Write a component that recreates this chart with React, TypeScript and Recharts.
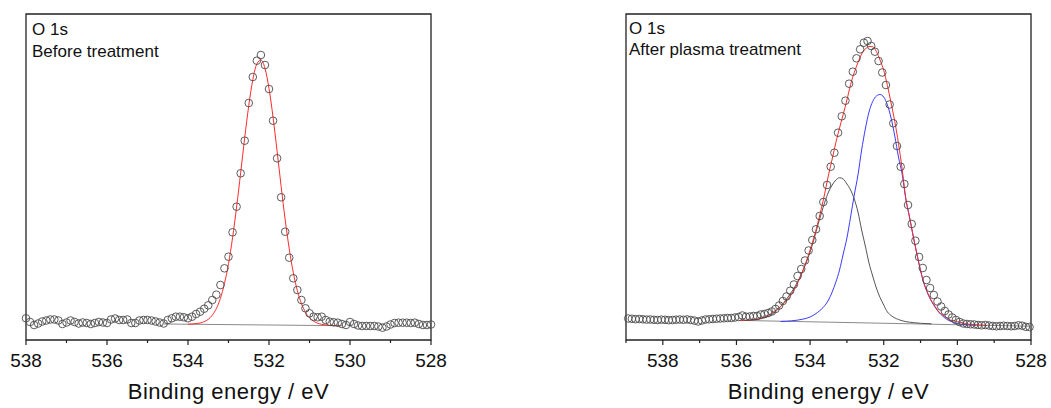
import { ComposedChart, Line, ReferenceArea, Scatter, XAxis, YAxis } from "recharts";

// O 1s spectra, intensity in arbitrary units
const beforeScan: [number, number][] = [
  [538.0, 21.7], [537.9, 18], [537.8, 15], [537.7, 16.5], [537.6, 18.5], [537.5, 19.5],
  [537.4, 20.5], [537.3, 20.5], [537.2, 19.5], [537.1, 16], [537.0, 17.5], [536.9, 19.5],
  [536.8, 18], [536.7, 16.5], [536.6, 17.5], [536.5, 17], [536.4, 16], [536.3, 17],
  [536.2, 18], [536.1, 17.5], [536.0, 17], [535.9, 20.5], [535.8, 21.5], [535.7, 20],
  [535.6, 20], [535.5, 20.5], [535.4, 17], [535.3, 17], [535.2, 19.5], [535.1, 20],
  [535.0, 20], [534.9, 19.5], [534.8, 18.5], [534.7, 17.5], [534.6, 16.5], [534.5, 20],
  [534.4, 21.7], [534.3, 23.3], [534.2, 23.3], [534.1, 22.7], [534.0, 21.7], [533.9, 23.3],
  [533.8, 26], [533.7, 28.3], [533.6, 31.3], [533.5, 34.7], [533.4, 40], [533.3, 45.3],
  [533.2, 55], [533.1, 71.7], [533.0, 83.3], [532.9, 107.7], [532.8, 133.3], [532.7, 166.7],
  [532.6, 199.3], [532.5, 237], [532.4, 263], [532.3, 279.3], [532.2, 285], [532.1, 275],
  [532.0, 251], [531.9, 219.3], [531.8, 181.7], [531.7, 142.7], [531.6, 108.3], [531.5, 82.3],
  [531.4, 61.7], [531.3, 50], [531.2, 40], [531.1, 31.7], [531.0, 26.7], [530.9, 23.3],
  [530.8, 22.7], [530.7, 23.3], [530.6, 20], [530.5, 18.3], [530.4, 17.7], [530.3, 17.3],
  [530.2, 16], [530.1, 15], [530.0, 18], [529.9, 16], [529.8, 14.5], [529.7, 14],
  [529.6, 14], [529.5, 14], [529.4, 14], [529.3, 13.5], [529.2, 12.3], [529.1, 13.5],
  [529.0, 15.5], [528.9, 17], [528.8, 17.3], [528.7, 17.3], [528.6, 17.3], [528.5, 17],
  [528.4, 17.3], [528.3, 16], [528.2, 15], [528.1, 15], [528.0, 15.5],
];

const beforeFit: [number, number][] = [
  [534.0, 15.8], [533.9, 16], [533.8, 16.4], [533.7, 17], [533.6, 18.3], [533.5, 20.7],
  [533.4, 24.8], [533.3, 31.4], [533.2, 41.6], [533.1, 56.4], [533.0, 76.3], [532.9, 102.2],
  [532.8, 133], [532.7, 167.2], [532.6, 202.2], [532.5, 234.4], [532.4, 260.3], [532.3, 276.1],
  [532.2, 280.1], [532.1, 271.8], [532.0, 251.5], [531.9, 222.8], [531.8, 188.8], [531.7, 153.5],
  [531.6, 120.2], [531.5, 91.1], [531.4, 67.4], [531.3, 49.4], [531.2, 36.6], [531.1, 27.8],
  [531.0, 22.2], [530.9, 18.8], [530.8, 16.8], [530.7, 15.7], [530.6, 15], [530.5, 14.5],
  [530.4, 14.4], [530.3, 14.3],
];

const beforeBase: [number, number][] = [[534.6, 16], [530.2, 14.3]];

const afterScan: [number, number][] = [
  [538.94, 21.5], [538.84, 21.2], [538.74, 20.8], [538.64, 21], [538.54, 20.7], [538.44, 20.4],
  [538.34, 20.5], [538.24, 20.2], [538.14, 20], [538.04, 20.4], [537.94, 20.2], [537.84, 19.8],
  [537.74, 20], [537.64, 20.3], [537.54, 20.5], [537.44, 20.2], [537.34, 20.6], [537.24, 20],
  [537.14, 19.4], [537.04, 18.5], [536.94, 19.5], [536.84, 20.5], [536.74, 20.7], [536.64, 21],
  [536.54, 21.3], [536.44, 21.5], [536.34, 21.7], [536.24, 22], [536.14, 22], [536.04, 22.5],
  [535.94, 23], [535.84, 24.5], [535.74, 23.3], [535.64, 23.5], [535.54, 24], [535.44, 24],
  [535.34, 25.5], [535.24, 26], [535.14, 27], [535.04, 28.5], [534.94, 31], [534.84, 34.5],
  [534.74, 39], [534.64, 43.5], [534.54, 49.3], [534.44, 55.5], [534.34, 64], [534.24, 71],
  [534.14, 79.5], [534.04, 89.5], [533.94, 100], [533.84, 110.7], [533.74, 124], [533.64, 138],
  [533.54, 155], [533.44, 173.3], [533.34, 187.3], [533.24, 207.3], [533.14, 223.7], [533.04, 239.3],
  [532.94, 256.3], [532.84, 268.3], [532.74, 281.7], [532.64, 290.7], [532.54, 297.3], [532.44, 299],
  [532.34, 294], [532.24, 288.3], [532.14, 279], [532.04, 267.5], [531.94, 255], [531.84, 235.5],
  [531.74, 216.7], [531.64, 194], [531.54, 173.3], [531.44, 156], [531.34, 135], [531.24, 116],
  [531.14, 99.3], [531.04, 83], [530.94, 72], [530.84, 60], [530.74, 52], [530.64, 45],
  [530.54, 38.5], [530.44, 33.5], [530.34, 29], [530.24, 25.5], [530.14, 22.5], [530.04, 20],
  [529.94, 18], [529.84, 16.5], [529.74, 16], [529.64, 15.7], [529.54, 15.5], [529.44, 15],
  [529.34, 14.7], [529.24, 15], [529.14, 14.5], [529.04, 14], [528.94, 13.7], [528.84, 14],
  [528.74, 14.3], [528.64, 14], [528.54, 13.7], [528.44, 14], [528.34, 14.7], [528.24, 14.3],
  [528.14, 13.2], [528.04, 13],
];

const afterFit: [number, number][] = [
  [535.9, 19.5], [535.8, 19.6], [535.7, 19.8], [535.6, 20.1], [535.5, 20.6], [535.4, 21.3],
  [535.3, 22.3], [535.2, 23.7], [535.1, 25.5], [535.0, 27.8], [534.9, 30.5], [534.8, 33.5],
  [534.7, 37], [534.6, 41], [534.5, 46], [534.4, 52.5], [534.3, 60], [534.2, 69],
  [534.1, 79], [534.0, 90], [533.9, 102], [533.8, 115.5], [533.7, 130.5], [533.6, 147],
  [533.5, 165], [533.4, 181], [533.3, 197.5], [533.2, 212], [533.1, 225.7], [533.0, 240],
  [532.9, 255.4], [532.8, 267.5], [532.7, 277.5], [532.6, 286], [532.5, 291], [532.4, 293.5],
  [532.3, 293.3], [532.2, 288.5], [532.1, 280], [532.0, 269.5], [531.9, 254.5], [531.8, 237],
  [531.7, 218.5], [531.6, 196.7], [531.5, 171], [531.4, 141.5], [531.3, 123], [531.2, 104],
  [531.1, 86.5], [531.0, 69.5], [530.9, 56], [530.8, 46.5], [530.7, 39], [530.6, 33.3],
  [530.5, 28], [530.4, 25], [530.3, 22.5], [530.2, 20], [530.0, 18.5], [529.8, 16.5],
  [529.6, 15.5], [529.4, 15], [529.2, 14.5],
];

// component at higher binding energy (grey)
const afterHigh: [number, number][] = [
  [535.8, 19.5], [535.6, 19.8], [535.4, 20.8], [535.2, 22.7], [535.0, 26.5], [534.8, 33.5],
  [534.6, 43], [534.4, 54], [534.2, 69], [534.0, 88], [533.9, 100], [533.8, 113.5],
  [533.7, 126], [533.6, 138], [533.5, 148], [533.4, 155], [533.3, 160], [533.2, 162.3],
  [533.1, 161], [533.0, 156], [532.9, 150], [532.8, 141], [532.7, 128], [532.6, 110],
  [532.5, 94], [532.4, 77], [532.3, 64], [532.2, 52], [532.1, 42.5], [532.0, 35],
  [531.9, 28], [531.8, 24.5], [531.6, 20.5], [531.4, 18.4], [531.2, 17.4], [531.0, 16.7],
  [530.7, 16.2],
];

// component at lower binding energy (blue)
const afterLow: [number, number][] = [
  [534.8, 18.5], [534.5, 19.2], [534.2, 20.8], [534.0, 23], [533.8, 27.5], [533.6, 34.5],
  [533.5, 40], [533.4, 48], [533.3, 58], [533.2, 70], [533.1, 86], [533.0, 102],
  [532.9, 123], [532.8, 145], [532.7, 165], [532.6, 190], [532.5, 211], [532.4, 228],
  [532.3, 238.5], [532.2, 244], [532.1, 245.5], [532.0, 243], [531.9, 235], [531.8, 222],
  [531.7, 204], [531.6, 183], [531.5, 166], [531.4, 141], [531.3, 123], [531.2, 104],
  [531.1, 86], [531.0, 69.5], [530.9, 56], [530.8, 46], [530.7, 38.5], [530.6, 32.5],
  [530.5, 27.5], [530.4, 24], [530.3, 21], [530.2, 19], [530.0, 16.5], [529.8, 15.5],
  [529.5, 14.8],
];

const afterBase: [number, number][] = [[535.9, 19.6], [528.0, 13.8]];

const beforeTicks = [538, 537, 536, 535, 534, 533, 532, 531, 530, 529, 528];
const afterTicks = [539, 538, 537, 536, 535, 534, 533, 532, 531, 530, 529, 528];

const font = "'Liberation Sans', Arial, sans-serif";
const frame = "#222";
const H = 408;
const Y_MAX = 326;

const rows = (r: [number, number][]) => r.map(([e, v]) => ({ e, v }));

function EnergyTick(props: any) {
  const { x, y, payload } = props;
  const major = payload.value % 2 === 0;
  return (
    <g>
      <line x1={x} x2={x} y1={y} y2={y + (major ? 5 : 3)} stroke={frame} strokeWidth={1.2} />
      {major && (
        <text x={x} y={y + 27} textAnchor="middle" fontSize={19} fill="#111" fontFamily={font}>
          {payload.value}
        </text>
      )}
    </g>
  );
}

const Ring = (p: any) => (
  <circle cx={p.cx} cy={p.cy} r={3.8} fill="none" stroke="#4a4a4a" strokeWidth={0.9} />
);

type PanelProps = {
  left: number;
  width: number;
  marginRight: number;
  domain: [number, number];
  ticks: number[];
  scan: [number, number][];
  fit: [number, number][];
  base: [number, number][];
  parts?: { data: [number, number][]; color: string }[];
};

function Panel({ left, width, marginRight, domain, ticks, scan, fit, base, parts = [] }: PanelProps) {
  return (
    <div style={{ position: "absolute", left, top: 0 }}>
      <ComposedChart
        width={width}
        height={H}
        margin={{ top: 14, left: 26, right: marginRight, bottom: 0 }}
      >
        <XAxis
          dataKey="e"
          type="number"
          domain={domain}
          reversed
          ticks={ticks}
          interval={0}
          height={68}
          tickSize={0}
          tickMargin={0}
          tickLine={false}
          tick={<EnergyTick />}
          axisLine={false}
          label={{
            value: "Binding energy / eV",
            position: "insideBottom",
            offset: 9,
            fontSize: 22,
            fill: "#111",
            fontFamily: font,
            letterSpacing: 0.5,
          }}
        />
        <YAxis dataKey="v" type="number" domain={[0, Y_MAX]} hide />
        <ReferenceArea
          x1={domain[0]}
          x2={domain[1]}
          y1={0}
          y2={Y_MAX}
          fill="none"
          fillOpacity={0}
          stroke={frame}
          strokeWidth={1.3}
          ifOverflow="visible"
        />
        <Line data={rows(base)} dataKey="v" type="linear" stroke="#8a8a8a" strokeWidth={1} dot={false} isAnimationActive={false} />
        {parts.map((p, i) => (
          <Line key={i} data={rows(p.data)} dataKey="v" type="monotone" stroke={p.color} strokeWidth={1} dot={false} isAnimationActive={false} />
        ))}
        <Line data={rows(fit)} dataKey="v" type="monotone" stroke="#ff2a2a" strokeWidth={1} dot={false} isAnimationActive={false} />
        <Scatter data={rows(scan)} dataKey="v" shape={Ring} isAnimationActive={false} />
      </ComposedChart>
    </div>
  );
}

export default function App() {
  const txt = { fontSize: 17, fill: "#111", fontFamily: font };
  return (
    <div style={{ position: "absolute", left: 0, top: 0, width: 1051, height: H, background: "#fff" }}>
      <Panel left={0} width={470} marginRight={39} domain={[528, 538]} ticks={beforeTicks}
        scan={beforeScan} fit={beforeFit} base={beforeBase} />
      <Panel left={600} width={451} marginRight={20} domain={[528, 539]} ticks={afterTicks}
        scan={afterScan} fit={afterFit} base={afterBase}
        parts={[{ data: afterHigh, color: "#555555" }, { data: afterLow, color: "#3a3aff" }]} />
      <svg width={1051} height={H} style={{ position: "absolute", left: 0, top: 0, pointerEvents: "none" }}>
        <text x={32} y={35} {...txt}>O 1s</text>
        <text x={32} y={56.5} {...txt}>Before treatment</text>
        <text x={629} y={33.5} {...txt}>O 1s</text>
        <text x={629} y={54.5} {...txt}>After plasma treatment</text>
      </svg>
    </div>
  );
}
